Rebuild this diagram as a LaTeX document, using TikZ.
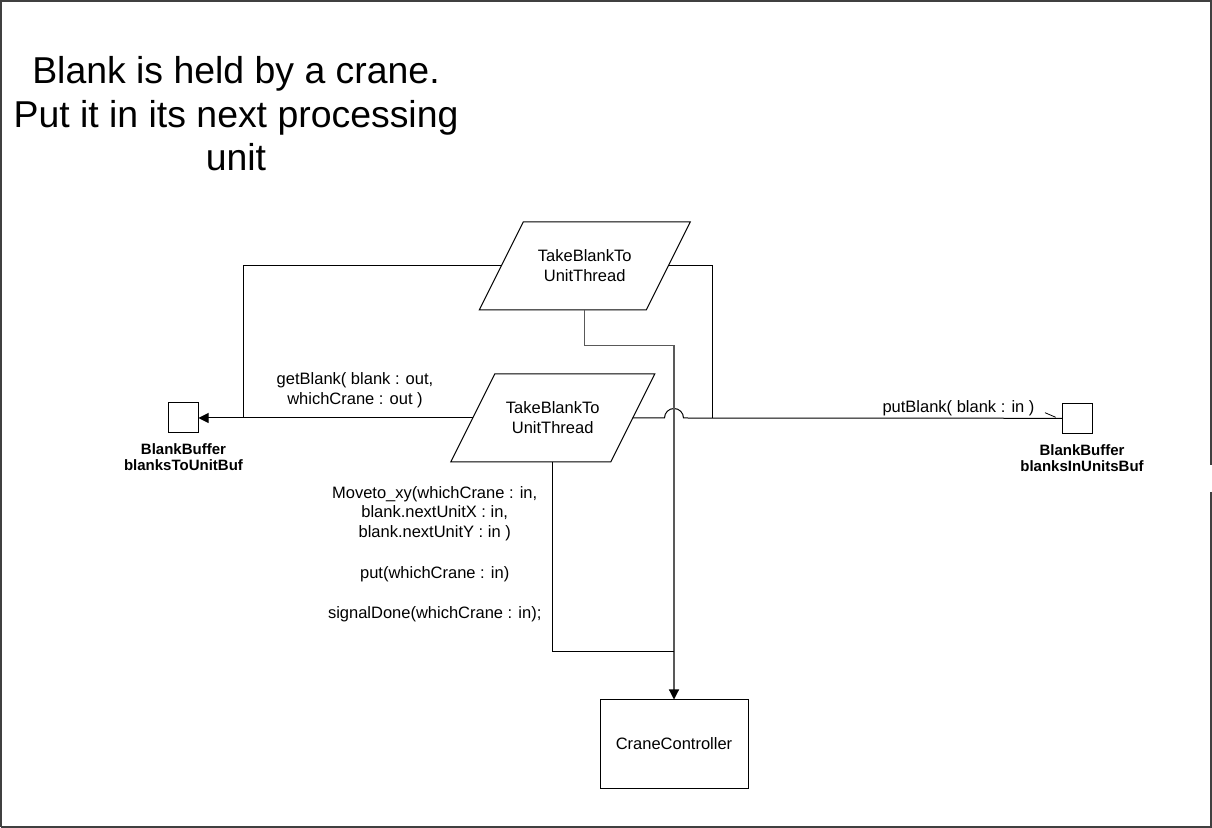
\documentclass[tikz,border=0pt]{standalone}
\usepackage{fontspec}
\setmainfont{Liberation Sans}
\usetikzlibrary{arrows.meta,calc}
\begin{document}
\begin{tikzpicture}[x=0.5pt,y=-0.5pt,
  every node/.style={inner sep=0pt,outer sep=0pt},
  txt/.style={font=\fontsize{8.25pt}{9.9pt}\selectfont},
  para/.style={txt,minimum height=44pt,align=center},
  bufbox/.style={draw,line width=0.5pt,minimum width=15pt,minimum height=15pt},
  buflabel/.style={align=center,font=\bfseries\fontsize{7.5pt}{8pt}\selectfont},
  procbox/.style={txt,draw,line width=0.5pt,minimum width=74pt,minimum height=44.5pt},
  lbl/.style={txt,align=center},
  conn/.style={line width=0.5pt},
  grayconn/.style={line width=0.6pt,black!65},
  tip/.style={-{Triangle[length=5pt,width=5pt,color=black]}},
  frame/.style={line width=1pt,black!75}]
\useasboundingbox (0,0) rectangle (1212,828);
% frame
\draw[frame] (1,827) -- (1,1) -- (1210.5,1) -- (1210.5,465);
\draw[frame] (1210.5,492) -- (1210.5,827) -- (1,827);
% title
\node[align=center,font=\fontsize{18.7pt}{21.75pt}\selectfont] (title) at (236,114)
  {Blank is held by a crane.\\Put it in its next processing\\unit};
% parallelograms
\node[para,minimum width=83.5pt] (tp) at (584.7,266) {TakeBlankTo\\UnitThread};
\node[para,minimum width=80pt] (bp) at (552.7,418) {TakeBlankTo\\UnitThread};
\foreach \n in {tp,bp}{
  \draw[conn] ([xshift=11pt]\n.north west) -- ([xshift=11pt]\n.north east)
    -- ([xshift=-11pt]\n.south east) -- ([xshift=-11pt]\n.south west) -- cycle;
}
% buffers
\node[bufbox] (bl) at (183.5,418) {};
\node[buflabel] (bll) at (183.5,457) {BlankBuffer\\blanksToUnitBuf};
\node[bufbox] (br) at (1077.3,418.3) {};
\node[buflabel] (brl) at (1082,458) {BlankBuffer\\blanksInUnitsBuf};
% crane controller
\node[procbox] (cc) at (674,744) {CraneController};
% junctions
\coordinate (jl) at (243.3,418);
\coordinate (jr) at (712.7,418);
\coordinate (k1) at (584.7,345.7);
\coordinate (j3) at (674,651.7);
% connectors
\draw[conn] (tp.west) -| (jl);
\draw[conn,tip] (bp.west) -- (bl.east);
\draw[conn] (tp.east) -| (jr);
\draw[conn] (bp.east) -- (664.5,418) arc[start angle=180,end angle=0,radius=4.75pt] -- (br.west);
\draw[conn,line width=0.4pt] (1045,412.7) -- (1055.7,417.3);
\draw[grayconn,tip] (tp.south) -- (k1) -| (cc.north);
\draw[conn] (bp.south) |- (j3);
% labels
\node[lbl] (lget) at (355,390.5) {getBlank( blank : out,\\whichCrane : out )};
\node[lbl] (lput) at (958.5,408) {putBlank( blank : in )};
\node[lbl] (lmov) at (434.7,554) {Moveto\_xy(whichCrane : in,\\blank.nextUnitX : in,\\blank.nextUnitY : in )\\[10.3pt]put(whichCrane : in)\\[10.3pt]signalDone(whichCrane : in);};
\end{tikzpicture}
\end{document}
